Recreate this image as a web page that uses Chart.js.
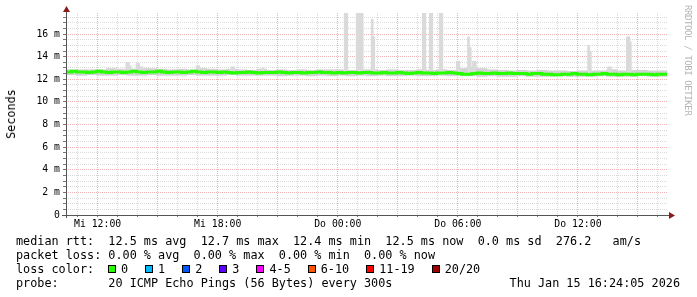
<!DOCTYPE html>
<html lang="de">
<head>
<meta charset="UTF-8">
<title>smokeping rtt</title>
<script src="https://cdn.jsdelivr.net/npm/chart.js"></script>
<style>
  body { margin: 0; background: #fff; }
  #wrap { position: relative; width: 697px; height: 297px; overflow: hidden; font-family: 'DejaVu Sans Mono', monospace; color: #000; }
  #wrap canvas { position: absolute; left: 0; top: 0; }
  .txt { position: absolute; white-space: pre; font-size: 11.8px; line-height: 14px; }
  #ylabel { left: 11px; top: 114px; transform: translate(-50%, -50%) rotate(-90deg); }
  #mark { position: absolute; left: 683px; top: 5px; writing-mode: vertical-rl; font-size: 9px; letter-spacing: -0.4px; color: #b4b4b4; white-space: pre; }
  #loss { position: absolute; left: 108px; top: 262px; height: 14px; display: flex; align-items: center; font-size: 11.8px; white-space: pre; }
  #loss .item { display: flex; align-items: center; margin-right: 17px; }
  #loss .box { width: 6px; height: 6px; border: 1px solid #000; margin-right: 5px; }
</style>
</head>
<body>
<div id="wrap">
  <canvas id="myChart" width="697" height="297"></canvas>
  <div class="txt" id="ylabel">Seconds</div>
  <div id="mark">RRDTOOL / TOBI OETIKER</div>
  <div class="txt" style="left:16px;top:234px">median rtt:  12.5 ms avg  12.7 ms max  12.4 ms min  12.5 ms now  0.0 ms sd  276.2   am/s</div>
  <div class="txt" style="left:16px;top:248px">packet loss: 0.00 % avg  0.00 % max  0.00 % min  0.00 % now</div>
  <div class="txt" style="left:16px;top:262px">loss color:</div>
  <div id="loss"></div>
  <div class="txt" style="left:16px;top:276px">probe:       20 ICMP Echo Pings (56 Bytes) every 300s</div>
  <div class="txt" style="right:17px;top:276px">Thu Jan 15 16:24:05 2026</div>
</div>
<script>
// Zeitachse in Stunden ab Mi 00:00 (24 = Do 00:00)
const xMin = 10.42;
const xMax = 40.5;
const yMax = 17.86;

const tickHours = [12, 18, 24, 30, 36];
const tickLabels = ['Mi 12:00', 'Mi 18:00', 'Do 00:00', 'Do 06:00', 'Do 12:00'];

// median rtt (ms), alle 15 min ab 10.45 h
const medianStart = 10.45;
const medianStep = 0.25;
const medianRtt = [
  12.65, 12.7, 12.65, 12.65, 12.6, 12.65, 12.7, 12.65, 12.6, 12.65,
  12.65, 12.6, 12.65, 12.7, 12.65, 12.6, 12.65, 12.65, 12.7, 12.65,
  12.6, 12.65, 12.65, 12.6, 12.65, 12.7, 12.65, 12.6, 12.65, 12.65,
  12.6, 12.65, 12.6, 12.55, 12.6, 12.6, 12.65, 12.6, 12.55, 12.6,
  12.6, 12.6, 12.65, 12.6, 12.55, 12.6, 12.6, 12.55, 12.6, 12.6,
  12.65, 12.6, 12.6, 12.55, 12.6, 12.55, 12.6, 12.6, 12.55, 12.6,
  12.6, 12.55, 12.55, 12.6, 12.55, 12.55, 12.6, 12.55, 12.5, 12.55,
  12.6, 12.55, 12.55, 12.5, 12.55, 12.55, 12.6, 12.55, 12.5, 12.45,
  12.45, 12.5, 12.55, 12.5, 12.5, 12.55, 12.5, 12.5, 12.55, 12.5,
  12.5, 12.5, 12.45, 12.5, 12.5, 12.45, 12.45, 12.4, 12.4, 12.45,
  12.45, 12.5, 12.45, 12.45, 12.4, 12.45, 12.45, 12.5, 12.45, 12.45,
  12.4, 12.45, 12.45, 12.4, 12.45, 12.45, 12.45, 12.4, 12.45, 12.45, 12.45
];

// Rauch (smoke) Band, alle 30 min, Mitte ab 10.7 h
const smokeStart = 10.7;
const smokeStep = 0.5;
const smokeLow = [
  12.4, 12.35, 12.4, 12.35, 12.35, 12.4, 12.35, 12.35, 12.4, 12.35,
  12.35, 12.35, 12.4, 12.35, 12.35, 12.35, 12.4, 12.35, 12.35, 12.35,
  12.35, 12.3, 12.35, 12.35, 12.3, 12.35, 12.3, 12.35, 12.3, 12.35,
  12.3, 12.35, 12.3, 12.3, 12.35, 12.3, 12.3, 12.35, 12.3, 12.3,
  12.3, 12.25, 12.3, 12.25, 12.25, 12.3, 12.25, 12.25, 12.25, 12.3,
  12.25, 12.25, 12.25, 12.3, 12.25, 12.25, 12.25, 12.3, 12.25, 12.25
];
const smokeHigh = [
  12.85, 12.85, 12.85, 12.85, 12.95, 12.9, 12.9, 12.95, 12.95, 12.9,
  12.85, 12.9, 12.85, 12.95, 12.9, 12.85, 12.9, 12.85, 12.8, 12.9,
  12.8, 12.85, 12.8, 12.85, 12.8, 12.85, 12.85, 12.85, 12.8, 12.85,
  12.85, 12.8, 12.85, 12.8, 12.8, 12.85, 12.8, 12.85, 12.8, 12.95,
  13.05, 12.95, 12.85, 12.8, 12.75, 12.8, 12.75, 12.8, 12.75, 12.75,
  12.7, 12.75, 12.75, 12.75, 12.85, 12.75, 12.8, 12.8, 12.75, 12.75
];

// einzelne Ausreisser (5-min Werte)
const spikeHours = [
  12.9, 13.46, 13.54, 13.62, 13.97, 14.05, 14.13, 14.22, 16.97, 17.05,
  18.72, 18.8, 20.25, 24.37, 24.45, 24.97, 25.05, 25.13, 25.22, 25.72,
  25.8, 28.27, 28.35, 28.62, 28.7, 29.12, 29.2, 29.97, 30.05, 30.53,
  30.62, 30.78, 30.87, 36.53, 36.62, 37.53, 37.62, 38.47, 38.55, 38.62
];
const spikeTops = [
  13.0, 13.5, 13.5, 13.2, 13.4, 13.4, 13.1, 13.1, 13.2, 13.2,
  13.1, 13.1, 13.0, 17.9, 17.9, 17.9, 17.9, 17.9, 17.9, 17.3,
  15.75, 17.9, 17.9, 17.9, 17.9, 17.9, 17.9, 13.6, 13.6, 15.75,
  14.8, 13.6, 13.6, 15.0, 14.5, 13.1, 13.1, 15.75, 15.75, 15.3
];
const spikeBase = 12.5;

const lossLabels = ['0', '1', '2', '3', '4-5', '6-10', '11-19', '20/20'];
const lossColors = ['#26ff00', '#00b8ff', '#0059ff', '#5e00ff', '#ff00ff', '#ff5500', '#ff0000', '#a10000'];

// Legende loss color
const lossBox = document.getElementById('loss');
lossLabels.forEach(function (lab, i) {
  const item = document.createElement('span');
  item.className = 'item';
  const b = document.createElement('span');
  b.className = 'box';
  b.style.background = lossColors[i];
  const t = document.createElement('span');
  t.textContent = lab;
  item.appendChild(b);
  item.appendChild(t);
  lossBox.appendChild(item);
});

const medianPts = medianRtt.map(function (v, i) { return { x: medianStart + i * medianStep, y: v }; });
const smokePts = smokeLow.map(function (lo, i) { return { x: smokeStart + i * smokeStep, y: [lo, smokeHigh[i]] }; });
const spikePts = spikeHours.map(function (h, i) { return { x: h, y: [spikeBase, spikeTops[i]] }; });

// Achsen mit Pfeilen wie bei rrdtool
const axisArrows = {
  id: 'axisArrows',
  afterDraw(chart) {
    const ctx = chart.ctx;
    const a = chart.chartArea;
    ctx.save();
    ctx.strokeStyle = '#555';
    ctx.lineWidth = 1;
    ctx.beginPath();
    ctx.moveTo(a.left + 0.5, a.bottom + 3);
    ctx.lineTo(a.left + 0.5, a.top - 3);
    ctx.moveTo(a.left - 4, a.bottom + 0.5);
    ctx.lineTo(a.right + 2, a.bottom + 0.5);
    ctx.stroke();
    ctx.fillStyle = '#8b1a1a';
    ctx.beginPath();
    ctx.moveTo(a.left - 3, a.top - 1);
    ctx.lineTo(a.left + 4, a.top - 1);
    ctx.lineTo(a.left + 0.5, a.top - 7);
    ctx.closePath();
    ctx.fill();
    ctx.beginPath();
    ctx.moveTo(a.right + 1, a.bottom - 3);
    ctx.lineTo(a.right + 1, a.bottom + 4);
    ctx.lineTo(a.right + 7, a.bottom + 0.5);
    ctx.closePath();
    ctx.fill();
    ctx.restore();
  }
};

const tickFont = { family: 'DejaVu Sans Mono', size: 9.8 };
const gridMajor = '#f0b4b4';
const gridMinor = '#dadada';

const chart = new Chart(document.getElementById('myChart'), {
  type: 'bar',
  data: {
    datasets: [
      {
        type: 'line',
        label: 'median rtt',
        data: medianPts,
        borderColor: '#26ff00',
        borderWidth: 3,
        stepped: true,
        pointRadius: 0,
        fill: false,
        order: 0
      },
      {
        label: 'spikes',
        data: spikePts,
        backgroundColor: '#dadada',
        borderWidth: 0,
        barThickness: 2,
        grouped: false,
        order: 1
      },
      {
        label: 'smoke',
        data: smokePts,
        backgroundColor: '#d2d2d2',
        borderWidth: 0,
        barThickness: 10,
        grouped: false,
        order: 2
      }
    ]
  },
  options: {
    responsive: false,
    maintainAspectRatio: false,
    devicePixelRatio: 1,
    animation: false,
    layout: { padding: { top: 13, right: 29, bottom: 0, left: 0 } },
    plugins: { legend: { display: false }, tooltip: { enabled: false } },
    scales: {
      x: {
        type: 'linear',
        min: xMin,
        max: xMax,
        offset: false,
        afterFit: function (s) { s.height = 82; },
        grid: {
          offset: false,
          color: function (c) { return c.tick.value % 3 === 0 ? gridMajor : gridMinor; },
          tickColor: '#777',
          tickLength: 2
        },
        border: { display: false, dash: [1, 1] },
        ticks: {
          stepSize: 1,
          includeBounds: false,
          autoSkip: false,
          maxRotation: 0,
          padding: 2,
          color: '#000',
          font: tickFont,
          callback: function (v) {
            const k = tickHours.indexOf(v);
            return k >= 0 ? tickLabels[k] : '';
          }
        }
      },
      y: {
        min: 0,
        max: yMax,
        afterFit: function (s) { s.width = 66; },
        grid: {
          color: function (c) { return c.tick.value % 2 === 0 ? gridMajor : gridMinor; },
          tickColor: '#777',
          tickLength: 3
        },
        border: { display: false, dash: [1, 1] },
        ticks: {
          stepSize: 0.5,
          includeBounds: false,
          autoSkip: false,
          padding: 3,
          color: '#000',
          font: tickFont,
          callback: function (v) {
            if (v === 0) return '0';
            return v % 2 === 0 ? v + ' m' : '';
          }
        }
      }
    }
  },
  plugins: [axisArrows]
});
</script>
</body>
</html>
